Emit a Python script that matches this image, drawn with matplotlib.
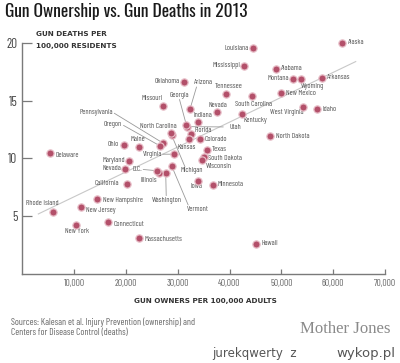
import matplotlib
matplotlib.use("Agg")
import matplotlib.pyplot as plt

# ---------------- data ----------------
states = ["Alaska", "Louisiana", "Mississippi", "Alabama", "Montana", "Wyoming", "Arkansas",
          "New Mexico", "South Carolina", "Tennessee", "Nevada", "Kentucky", "Utah", "Georgia",
          "West Virginia", "Idaho", "North Dakota", "Colorado", "Texas", "South Dakota",
          "Wisconsin", "Minnesota", "Hawaii", "Iowa", "Michigan", "North Carolina", "Vermont",
          "Washington", "Illinois", "D.C.", "Nevada ", "Maryland", "Ohio", "Maine", "Delaware",
          "Virginia", "Pennsylvania", "Oregon", "Missouri", "Oklahoma", "Arizona", "Indiana",
          "Florida", "Kansas", "California", "New Hampshire", "New Jersey", "Rhode Island",
          "New York", "Connecticut", "Massachusetts"]
owners = [61760, 44590, 42790, 48910, 52310, 53790, 57900,
          49870, 44400, 39380, 37530, 42410, 31850, 31700,
          54180, 56880, 47870, 34300, 35710, 35080,
          34630, 36810, 45110, 33860, 28810, 28650, 28840,
          27690, 26340, 25950, 19890, 20660, 19640, 22590, 5360,
          29350, 27220, 26590, 27110, 31280, 32380, 33860,
          32510, 32240, 20160, 14490, 11340, 5880,
          10380, 16610, 22590]
deaths = [20.0, 19.55, 18.04, 17.78, 16.89, 16.89, 17.0,
          15.67, 15.39, 15.59, 14.0, 13.85, 12.75, 12.85,
          14.46, 14.26, 11.92, 11.68, 10.73, 10.15,
          9.86, 7.69, 2.58, 8.07, 12.03, 12.18, 9.34,
          8.76, 8.71, 8.93, 9.08, 9.80, 11.16, 11.01, 10.44,
          10.36, 11.31, 11.08, 14.54, 16.65, 14.28, 13.18,
          12.09, 11.66, 7.81, 6.45, 5.76, 5.35,
          4.22, 4.48, 3.12]
trend_x = [3110, 64350]
trend_y = [5.18, 18.39]
x_ticks = [10000, 20000, 30000, 40000, 50000, 60000, 70000]
x_ticklabels = ["10,000", "20,000", "30,000", "40,000", "50,000", "60,000", "70,000"]
y_ticks = [5, 10, 15, 20]
y_ticklabels = ["5", "10", "15", "20"]

# -------------- label layout (pixel offsets: dx right, dy down, ha, leader-end offset) --------------
layout = {
    "Alaska": (6, 0, "left", None), "Louisiana": (-5, 0, "right", None),
    "Mississippi": (-4, 0, "right", None), "Alabama": (5, 0, "left", None),
    "Montana": (-4, 0, "right", None), "Wyoming": (0, 8, "left", None),
    "Arkansas": (5, 0, "left", None), "New Mexico": (5, 1, "left", None),
    "South Carolina": (1, 8, "center", None), "Tennessee": (2, -7, "center", None),
    "Nevada": (1, -7, "center", None), "Kentucky": (1, 7, "left", None),
    "Utah": (42, 0.6, "left", (36, 0.3)), "Georgia": (-7, -30, "center", (-7, -26)),
    "West Virginia": (0, 6, "right", None), "Idaho": (5, 0, "left", None),
    "North Dakota": (6, 0, "left", None), "Colorado": (5, 0.5, "left", None),
    "Texas": (5, 0, "left", None), "South Dakota": (4, 1.5, "left", None),
    "Wisconsin": (4, 6.5, "left", None), "Minnesota": (5, 0, "left", None),
    "Hawaii": (6, 0, "left", None), "Iowa": (-1.5, 6, "center", None),
    "Michigan": (8.5, 36, "left", (13.5, 32)), "North Carolina": (-12, -6.6, "center", None),
    "Vermont": (15, 44, "left", (16.5, 39)), "Washington": (1.3, 28, "center", (0.5, 23)),
    "Illinois": (-10, 7.4, "center", None), "D.C.": (-14.7, -1.4, "right", (-13.5, -1.2)),
    "Nevada ": (-4, 0, "right", None), "Maryland": (-4.3, 0, "right", None),
    "Ohio": (-5, 0, "right", None), "Maine": (-1, -6.7, "center", None),
    "Delaware": (6, 2, "left", None), "Virginia": (-12.6, 0, "right", (-11.6, 0)),
    "Pennsylvania": (-50, -30.6, "right", (-49, -30)), "Oregon": (-37.7, -21, "right", (-36.5, -20.5)),
    "Missouri": (-11, -7.3, "center", None), "Oklahoma": (-4.3, 0, "right", None),
    "Arizona": (4.3, -26.7, "left", (6.5, -22)), "Indiana": (5, -6, "center", None),
    "Florida": (3.6, -3.3, "left", None), "Kansas": (-3, 8, "center", None),
    "California": (-7.7, 0, "right", None), "New Hampshire": (5.3, 1.3, "left", None),
    "New Jersey": (4.7, 3.7, "left", None), "Rhode Island": (-10, -8, "center", None),
    "New York": (1, 6.7, "center", None), "Connecticut": (5, 2, "left", None),
    "Massachusetts": (5, 1.3, "left", None),
}

COND = ["Barlow Condensed", "DejaVu Sans"]
TITLE = ["Oswald", "Barlow Condensed", "DejaVu Sans"]
W, H = 400, 363
fig = plt.figure(figsize=(W / 100, H / 100), dpi=100)
fig.patch.set_facecolor("white")
ax = fig.add_axes([22.2 / W, 1 - 273.7 / H, (385 - 22.2) / W, (273.7 - 43) / H])
ax.set_xlim(0, 70000)
ax.set_ylim(0, 20)
ax.set_facecolor("none")

for s in ["top", "right"]:
    ax.spines[s].set_visible(False)
for s in ["left", "bottom"]:
    ax.spines[s].set_color("#7a7a7a")
    ax.spines[s].set_linewidth(1.0)

ax.set_xticks(x_ticks)
ax.set_xticklabels(x_ticklabels, fontfamily=COND, fontsize=6.8, color="#666666")
ax.set_yticks(y_ticks)
ax.set_yticklabels(y_ticklabels, fontfamily=COND, fontsize=9.5, color="#444444")
ax.tick_params(axis="x", direction="in", length=3.8, width=0.9, color="#7a7a7a", pad=4)
ax.tick_params(axis="y", direction="in", length=7.5, width=0.9, color="#7a7a7a", pad=3.5)

ax.plot(trend_x, trend_y, color="#c8c8c8", lw=0.8, zorder=1)

PT = 0.72  # points per pixel
for name, xv, yv in zip(states, owners, deaths):
    dx, dy, ha, lead = layout[name]
    ax.annotate(name.strip(), (xv, yv), xytext=(dx * PT, -dy * PT), textcoords="offset points",
                ha=ha, va="center", fontsize=5.4, fontfamily=COND,
                color="#555555", zorder=4)
    if lead is not None:
        ax.annotate("", (xv, yv), xytext=(lead[0] * PT, -lead[1] * PT), textcoords="offset points",
                    arrowprops=dict(arrowstyle="-", color="#9a9a9a", lw=0.6,
                                    shrinkA=0, shrinkB=0), zorder=2)

ax.scatter(owners, deaths, s=27, color="#b3506a", edgecolor="#e6bcc6", linewidth=0.9,
           zorder=5, clip_on=False)

renderer = fig.canvas.get_renderer()


def fit(t, target_px):
    w = t.get_window_extent(renderer=renderer).width
    t.set_fontsize(t.get_fontsize() * target_px / w)


title = fig.text(5 / W, 1 - 11.5 / H, "Gun Ownership vs. Gun Deaths in 2013", fontfamily=TITLE,
                 fontweight="bold", fontsize=14, color="#1a1a1a",
                 va="center", ha="left")
fit(title, 242)
fig.text(36 / W, 1 - 34 / H, "GUN DEATHS PER", fontfamily="DejaVu Sans", fontweight="bold",
         fontsize=5.2, color="#333333", va="center", ha="left")
fig.text(36 / W, 1 - 46 / H, "100,000 RESIDENTS", fontfamily="DejaVu Sans", fontweight="bold",
         fontsize=5.2, color="#333333", va="center", ha="left")
fig.text(205 / W, 1 - 301 / H, "GUN OWNERS PER 100,000 ADULTS", fontfamily="DejaVu Sans",
         fontweight="bold", fontsize=5.2, color="#333333", va="center", ha="center")
s1 = fig.text(11 / W, 1 - 322 / H, "Sources: Kalesan et al. Injury Prevention (ownership) and",
              fontfamily=COND, fontsize=6.5, color="#666666",
              va="center", ha="left")
fit(s1, 184)
fig.text(11 / W, 1 - 333 / H, "Centers for Disease Control (deaths)",
         fontfamily=COND, fontsize=s1.get_fontsize(), color="#666666",
         va="center", ha="left")
mj = fig.text(391 / W, 1 - 329 / H, "Mother Jones", fontfamily="Liberation Serif", fontsize=11,
              color="#8a8a8a", va="center", ha="right")
fit(mj, 91)
fig.text(297 / W, 1 - 354 / H, "jurekqwerty  z", fontfamily="DejaVu Sans", fontsize=8.5,
         color="#555555", va="center", ha="right")
fig.text(395 / W, 1 - 354 / H, "wykop.pl", fontfamily="DejaVu Sans", fontsize=9.5,
         color="#555555", va="center", ha="right")

fig.savefig("out.png", dpi=100, facecolor="white")
